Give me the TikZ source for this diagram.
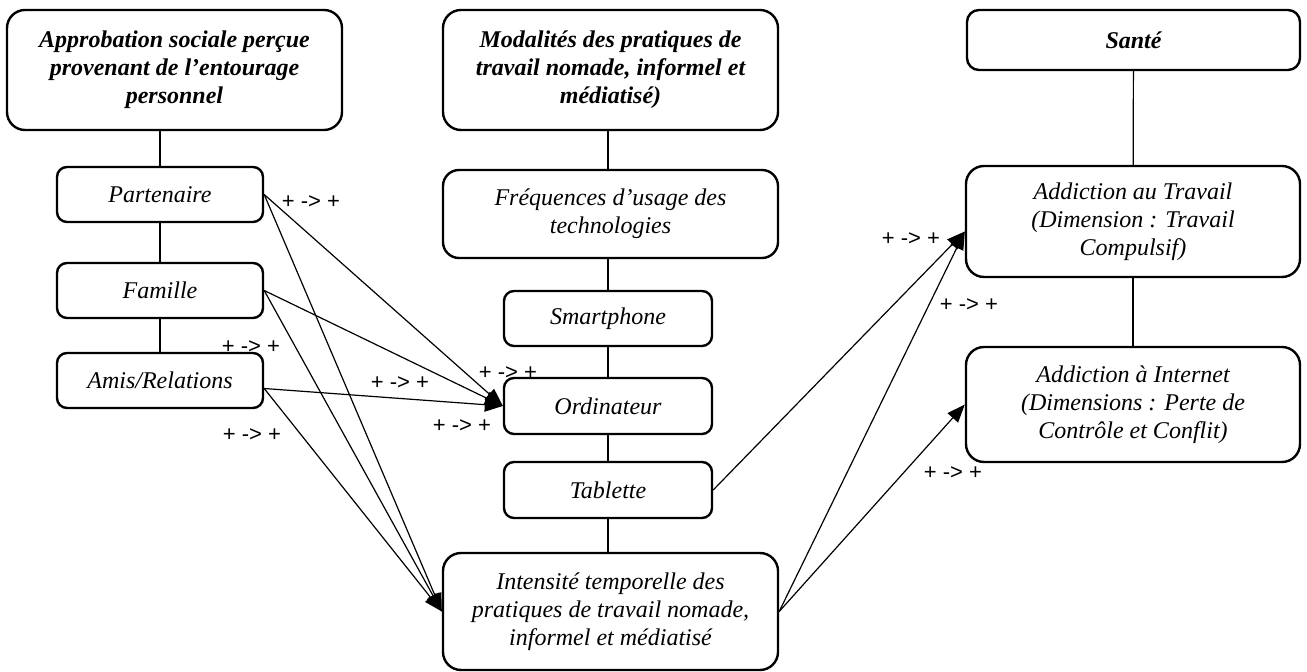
\documentclass[tikz,border=0pt]{standalone}
\usepackage{fontspec}
\setmainfont{Liberation Serif}
\newfontfamily\labfont{Liberation Sans}
\usetikzlibrary{arrows.meta}

\begin{document}
\begin{tikzpicture}[x=0.5pt,y=-0.5pt,
    box/.style={draw,line width=1.2pt,rounded corners=9pt,align=center,
      inner sep=2pt,font=\fontsize{12}{14}\selectfont\itshape},
    headbox/.style={box,minimum width=167.5pt,
      font=\fontsize{12}{14}\selectfont\bfseries\itshape},
    widebox/.style={box,minimum width=167.5pt},
    smallbox/.style={box,rounded corners=5pt,minimum width=103pt,minimum height=27.5pt},
    link/.style={line width=0.6pt},
    effect/.style={line width=0.6pt,-{Triangle[length=9pt,width=7pt]}},
    sign/.style={font=\labfont\fontsize{11}{13}\selectfont,inner sep=0pt}]
  \useasboundingbox (0,0) rectangle (1307,672);
  % left column
  \node[headbox,minimum height=60pt] (approb) at (174.5,70)
    {Approbation sociale perçue\\provenant de l'entourage\\personnel};
  \node[smallbox] (partenaire) at (160,194.5) {Partenaire};
  \node[smallbox] (famille) at (160,290.5) {Famille};
  \node[smallbox] (amis) at (160,380.5) {Amis/Relations};
  % middle column
  \node[headbox,minimum height=60pt] (modalites) at (610.5,70)
    {Modalités des pratiques de\\travail nomade, informel et\\médiatisé)};
  \node[widebox,minimum height=44pt,rounded corners=8pt] (frequences) at (610.5,214)
    {Fréquences d'usage des\\technologies};
  \node[smallbox,minimum width=104pt] (smartphone) at (608,318.5) {Smartphone};
  \node[smallbox,minimum width=104pt,minimum height=28pt] (ordinateur) at (608,406) {Ordinateur};
  \node[smallbox,minimum width=104pt,minimum height=28pt] (tablette) at (608,490) {Tablette};
  \node[widebox,minimum height=58.5pt] (intensite) at (610.5,611.5)
    {Intensité temporelle des\\pratiques de travail nomade,\\informel et médiatisé};
  % right column
  \node[headbox,minimum width=166.5pt,minimum height=30pt,rounded corners=6pt] (sante) at (1133.5,40) {Santé};
  \node[widebox,minimum width=167pt,minimum height=55.5pt] (travail) at (1133,221.5)
    {Addiction au Travail\\(Dimension : Travail\\Compulsif)};
  \node[widebox,minimum width=167pt,minimum height=57.5pt] (internet) at (1133,404.5)
    {Addiction à Internet\\(Dimensions : Perte de\\Contrôle et Conflit)};

  % vertical links
  \foreach \a/\b in {approb/partenaire, partenaire/famille, famille/amis}
    \draw[link] (\b.north) -- (\b.north |- \a.south);
  \foreach \a/\b in {modalites/frequences, frequences/smartphone, smartphone/ordinateur,
                     ordinateur/tablette, tablette/intensite}
    \draw[link] (smartphone.north |- \a.south) -- (smartphone.north |- \b.north);
  \draw[link] (sante) -- (travail);
  \draw[link] (travail) -- (internet);

  % effects
  \foreach \s in {partenaire, famille}{
    \draw[effect] (\s.east) -- (ordinateur.west);
    \draw[effect] (\s.east) -- (intensite.west);
  }
  \draw[effect] ([yshift=-4pt]amis.east) -- (ordinateur.west);
  \draw[effect] ([yshift=-4pt]amis.east) -- (intensite.west);
  \draw[effect] (tablette.east) -- ([yshift=-5pt]travail.west);
  \draw[effect] (intensite.east) -- ([yshift=-5pt]travail.west);
  \draw[effect] (intensite.east) -- (internet.west);

  % signs
  \node[sign] (s1) at (311,202) {+ -> +};
  \node[sign] (s2) at (251,347) {+ -> +};
  \node[sign] (s3) at (400,383) {+ -> +};
  \node[sign] (s4) at (508,373) {+ -> +};
  \node[sign] (s5) at (462,426) {+ -> +};
  \node[sign] (s6) at (252,435) {+ -> +};
  \node[sign] (s7) at (911,239) {+ -> +};
  \node[sign] (s8) at (969,305) {+ -> +};
  \node[sign] (s9) at (953,473) {+ -> +};
\end{tikzpicture}
\end{document}
